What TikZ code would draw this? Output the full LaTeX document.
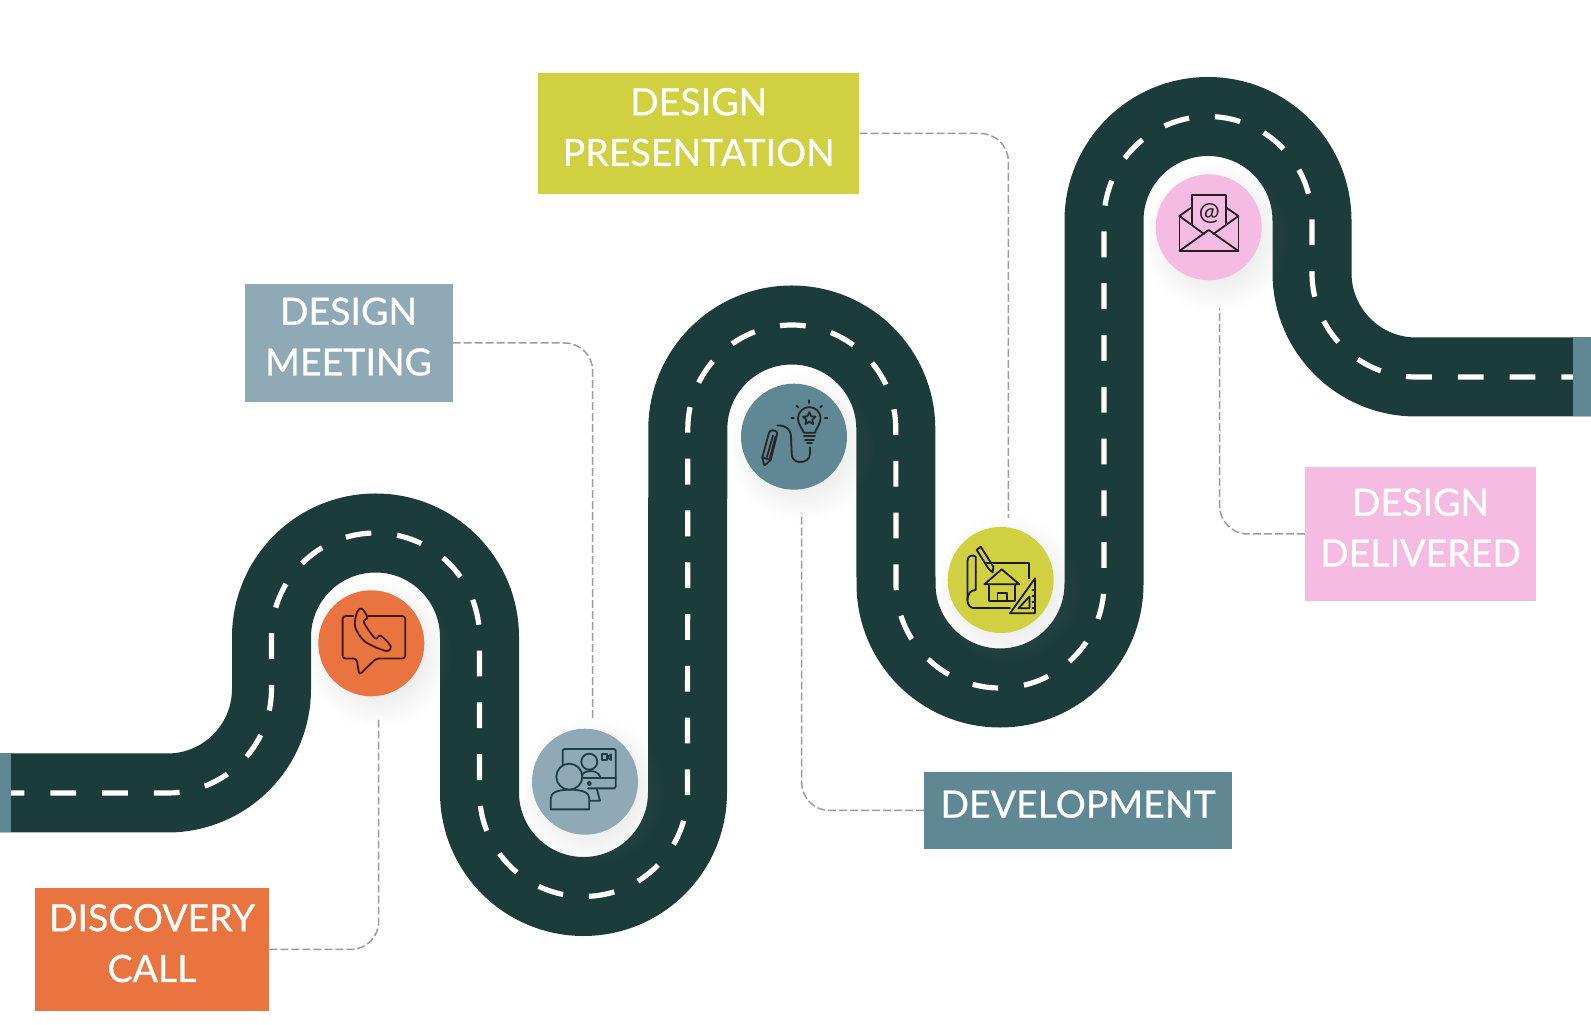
\documentclass[tikz,border=0pt]{standalone}
\usepackage{fontspec}
\setmainfont{Lato}
\newfontfamily\labelfont[FakeBold=0.6]{Lato}
\usetikzlibrary{shadows,fadings}
\definecolor{roadgreen}{RGB}{28,59,59}
\definecolor{callorange}{RGB}{233,116,63}
\definecolor{meetgray}{RGB}{143,170,182}
\definecolor{devteal}{RGB}{95,135,148}
\definecolor{presyellow}{RGB}{208,208,64}
\definecolor{delivpink}{RGB}{245,187,227}
\definecolor{leadgray}{RGB}{155,155,155}
\tikzfading[name=softring,inner color=transparent!50,outer color=transparent!100]
\newcommand{\roadline}{(0,232) -- (167.5,232) arc[start angle=-90,end angle=0,radius=104]
  -- (271.5,388) arc[start angle=180,end angle=0,radius=104]
  -- (479.5,232.5) arc[start angle=180,end angle=360,radius=104]
  -- (687.8,596) arc[start angle=180,end angle=0,radius=104]
  -- (896,441) arc[start angle=180,end angle=360,radius=104]
  -- (1104,804.5) arc[start angle=180,end angle=0,radius=104]
  -- (1312,752) arc[start angle=180,end angle=270,radius=104]
  -- (1591,648)}
\begin{document}
\begin{tikzpicture}[x=1pt,y=1pt,
    labelbox/.style={inner sep=0pt,align=center,text=white,text depth=13pt,font=\labelfont\fontsize{37.5}{50.7}\selectfont},
    stopdot/.style={circle,minimum size=106pt,inner sep=0pt,
      circular drop shadow={shadow xshift=5pt,shadow yshift=-7pt,shadow scale=1.42,opacity=.6,path fading=softring}},
    leader/.style={leadgray,line width=1.5pt,dash pattern=on 8pt off 3pt,rounded corners=28pt},
    iconline/.style={line width=1.8pt,line join=round,line cap=round}]
  \useasboundingbox (0,0) rectangle (1591,1025);
  \draw[roadgreen,line width=79pt] \roadline;
  \draw[white,line width=5.2pt,dash pattern=on 25.8pt off 25.97pt,dash phase=1.5pt] \roadline;
  \fill[devteal] (0,192.5) rectangle (11,271.5);
  \fill[devteal] (1573,608.5) rectangle (1591,687.5);

  \node[stopdot,fill=callorange] (calldot) at (371.3,381.7) {};
  \node[stopdot,fill=meetgray] (meetdot) at (585,243.3) {};
  \node[stopdot,fill=devteal] (devdot) at (794,588.3) {};
  \node[stopdot,fill=presyellow] (presdot) at (1000.7,445) {};
  \node[stopdot,fill=delivpink] (delivdot) at (1208.7,797.7) {};

  \begin{scope}[shift={(calldot.center)},iconline,draw={rgb,255:red,62;green,28;blue,12}]
    \draw[rounded corners=3pt] (-18,27.3) -- (-28.7,27.3) -- (-28.7,-15.3) -- (-14.7,-15.3)
      -- (-12,-31.7) -- (4.7,-15.3) -- (34,-15.3) -- (34,27.3) -- (-3,27.3);
    \draw plot[smooth cycle,tension=.5] coordinates {(-14,31.7) (-9.3,34.7) (-4,26) (-7.3,20.7)
      (3.7,5) (9.3,7.7) (19.3,-2.7) (14.7,-7.7) (-6.3,1.7) (-16.3,16.7)};
  \end{scope}

  \begin{scope}[shift={(meetdot.center)},iconline,draw={rgb,255:red,30;green,62;blue,70}]
    \draw[rounded corners=2pt] (-22.3,15) -- (-22.3,32.7) -- (30.7,32.7) -- (30.7,-6.7) -- (3,-6.7);
    \draw (-1.7,3.3) -- (30.7,3.3);
    \draw (4.3,-19) -- (15,-19) -- (11.7,-6.7);
    \draw (4.3,20) circle (8);
    \draw (-3.3,5) .. controls (-3,12) and (13,13) .. (15,5) -- (15,3.3);
    \draw (16.7,21.7) rectangle (22.3,27.3);
    \draw (22.3,24.5) -- (26,27.3) -- (26,21.7) -- cycle;
    \draw (4.3,-1.7) circle (1.8);
    \filldraw[fill=meetgray] (-34.3,-27.7) -- (-34.3,-17) .. controls (-34.3,-11) and (-28,-8) .. (-15,-8)
      .. controls (-2,-8) and (4.3,-11) .. (4.3,-17) -- (4.3,-27.7) -- cycle;
    \filldraw[fill=meetgray] (-15.7,5) circle (13);
  \end{scope}

  \begin{scope}[shift={(devdot.center)},iconline,draw=black!85]
    \draw (10,4) .. controls (8,8) and (4,13) .. (4,18.3) arc[start angle=180,end angle=-0,radius=11.3]
      .. controls (26.6,13) and (22,8) .. (21,4) -- cycle;
    \draw (10,0.5) -- (21,0.5) (11,-3) -- (20,-3) (13,-6) -- (18,-6);
    \draw (15.3,24.5) -- (17.2,20.4) -- (21.5,20) -- (18.3,17) -- (19.2,12.7) -- (15.3,15)
      -- (11.4,12.7) -- (12.3,17) -- (9.1,20) -- (13.4,20.4) -- cycle;
    \foreach \ang in {0,45,90,135,180} {
      \draw (15.3,18.3) ++(\ang:15.5) -- ++(\ang:2.5);
    }
    \draw (16,-10.7) -- (16,-16.7) .. controls (16,-23) and (11,-25.3) .. (6,-25.3)
      .. controls (-1,-25.3) and (-2.3,-20) .. (-2.3,-16.7) -- (-3,0)
      .. controls (-3.5,8) and (-8,11.3) .. (-16.7,11.3);
    \draw[rounded corners=1pt] (-29.7,-29) -- (-31.7,-20.7) -- (-24.7,5) .. controls (-22,7) and (-18,6.5) .. (-16.7,3.3)
      -- (-23.3,-23.3) -- cycle;
    \draw (-31.7,-20.7) -- (-23.3,-23.3) (-27,-20) -- (-21,1) (-24,-21) -- (-18.5,0);
  \end{scope}

  \begin{scope}[shift={(presdot.center)},iconline,draw=black!90]
    \draw (-14,17.3) -- (28,17.3) -- (28,1.7);
    \draw (-25,8) -- (-25,23.3) .. controls (-27,25.5) and (-33.3,25) .. (-33.3,19) -- (-33.3,-20)
      .. controls (-33.3,-25) and (-30,-28) .. (-27.3,-28) -- (9.3,-28);
    \draw (-25,8) -- (-25,-10) .. controls (-30,-10) and (-33.3,-14) .. (-33.3,-20);
    \draw (-16.3,-4.3) -- (1,10.7) -- (18.7,-4.3) -- cycle;
    \draw (-11.7,-4.3) -- (-11.7,-21) -- (14.3,-21) -- (14.3,-4.3);
    \draw (-3.3,-21) -- (-3.3,-12.7) -- (6,-12.7) -- (6,-21);
    \draw (34.3,1.7) -- (34.3,-33.3) -- (9.3,-33.3) -- cycle;
    \draw (28.7,-16.7) -- (28.7,-28.3) -- (17.7,-28.3) -- cycle;
    \draw (-24,30) -- (-20,33.3) -- (-7.3,13.3) -- (-8,7.7) -- (-12,11) -- cycle;
    \foreach \tk in {-10,-16,-22,-28} {
      \draw (34.3,\tk) -- (31.8,\tk);
    }
  \end{scope}

  \begin{scope}[shift={(delivdot.center)},iconline,draw=black!85!delivpink]
    \draw (-29.3,11.3) -- (-17,20) (17,20) -- (29.7,11.3);
    \draw (-17,2.3) -- (-17,32.3) -- (17,32.3) -- (17,2.3);
    \draw (-29.3,11.3) -- (-29.3,-23.7) -- (29.7,-23.7) -- (29.7,11.3);
    \draw (-29.3,-23.7) -- (0,-2.7) -- (29.7,-23.7);
    \draw (-29.3,11.3) -- (-4.7,-6.7) (29.7,11.3) -- (4.7,-6.7);
    \node[inner sep=0pt,text=black!85!delivpink,font=\fontsize{25}{25}\selectfont] (atsign) at (0.7,14) {@};
  \end{scope}

  \node[labelbox,fill=callorange,minimum width=234.5pt,minimum height=123pt] (callbox) at (152,75.5) {DISCOVERY\\CALL};
  \node[labelbox,fill=meetgray,minimum width=208pt,minimum height=118pt] (meetbox) at (348.5,682) {DESIGN\\MEETING};
  \node[labelbox,fill=presyellow,minimum width=321.5pt,minimum height=121pt] (presbox) at (698.7,891.5) {DESIGN\\PRESENTATION};
  \node[labelbox,fill=devteal,minimum width=307.6pt,minimum height=77pt] (devbox) at (1078,214.5) {DEVELOPMENT};
  \node[labelbox,fill=delivpink,minimum width=231pt,minimum height=134pt] (delivbox) at (1420.5,491) {DESIGN\\DELIVERED};

  \coordinate (callend) at (378.7,305);
  \coordinate (meetend) at (592.7,305);
  \coordinate (devend) at (801.7,512);
  \coordinate (presend) at (1008.3,507);
  \coordinate (delivend) at (1219.7,716.5);
  \draw[leader] (callbox.east) -| (callend);
  \draw[leader] (meetbox.east) -| (meetend);
  \draw[leader] (devbox.west) -| (devend);
  \draw[leader] (presbox.east) -| (presend);
  \draw[leader] (delivbox.west) -| (delivend);
\end{tikzpicture}
\end{document}
